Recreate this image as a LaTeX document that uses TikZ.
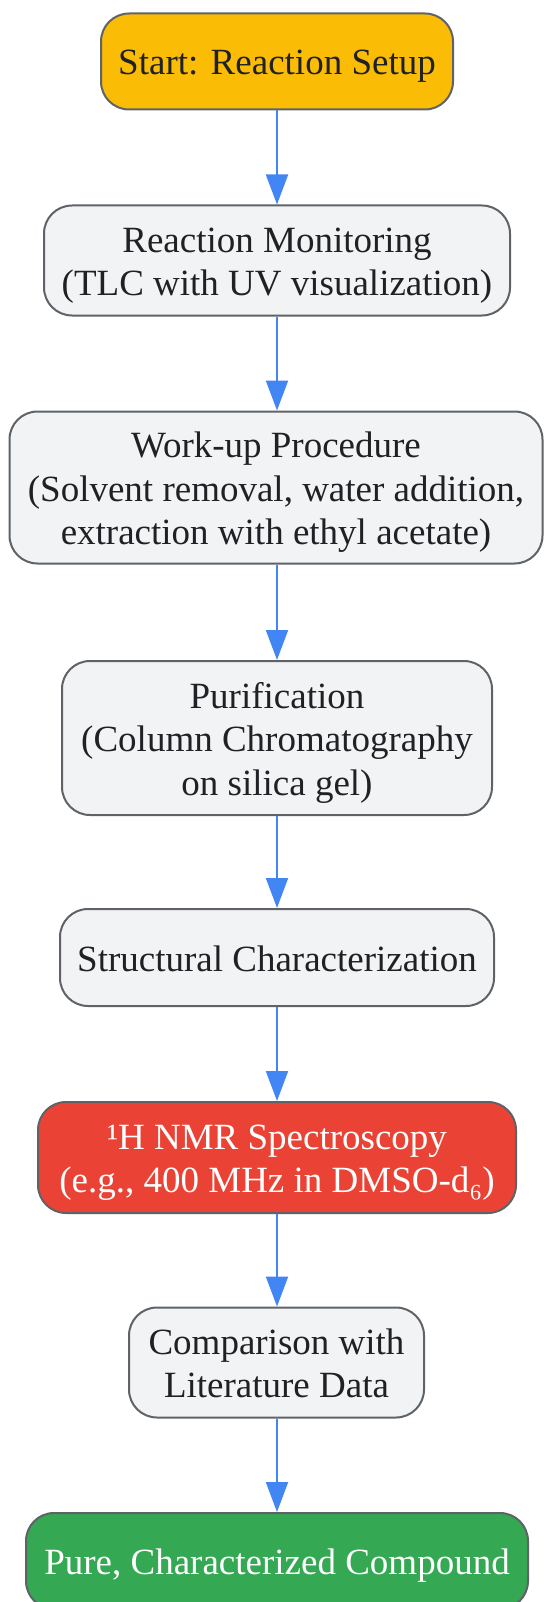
\documentclass[tikz,border=0pt]{standalone}
\usepackage{fontspec}
\setmainfont{Liberation Serif}
\usetikzlibrary{arrows.meta}
\definecolor{startfill}{HTML}{FBBC05}
\definecolor{boxfill}{HTML}{F1F3F4}
\definecolor{boxline}{HTML}{5F6368}
\definecolor{nmrfill}{HTML}{EA4335}
\definecolor{endfill}{HTML}{34A853}
\definecolor{arrowblue}{HTML}{4285F4}
\definecolor{txt}{HTML}{202124}
\newcommand\mytopstrut{\rule{0pt}{35pt}}
\newcommand\mybotstrut{\rule[-8pt]{0pt}{8pt}}
\tikzset{
  flowbox/.style={draw=boxline, line width=2pt, rounded corners=28pt, fill=boxfill,
    text=txt, align=center, inner sep=0pt,
    font=\fontsize{37}{43.5}\selectfont},
  flowarrow/.style={draw=arrowblue, line width=2pt, -{Triangle[length=30pt,width=22pt]}}
}
\begin{document}
\begin{tikzpicture}[x=1pt,y=-1pt]
\useasboundingbox (0,0) rectangle (543,1602);
\node[flowbox, fill=startfill, minimum width=352pt, minimum height=96pt] (n1) at (277,61.5) {\mytopstrut Start: Reaction Setup\mybotstrut};
\node[flowbox, minimum width=466pt, minimum height=110pt] (n2) at (277,260.5) {\mytopstrut Reaction Monitoring\\(TLC with UV visualization)\mybotstrut};
\node[flowbox, minimum width=533pt, minimum height=152pt] (n3) at (276,487.5) {\mytopstrut Work-up Procedure\\(Solvent removal, water addition,\\extraction with ethyl acetate)\mybotstrut};
\node[flowbox, minimum width=430pt, minimum height=154pt] (n4) at (277,738) {\mytopstrut Purification\\(Column Chromatography\\on silica gel)\mybotstrut};
\node[flowbox, minimum width=434pt, minimum height=97pt] (n5) at (277,957.5) {\mytopstrut Structural Characterization\mybotstrut};
\node[flowbox, fill=nmrfill, text=white, minimum width=478pt, minimum height=111pt] (n6) at (277,1157.5) {\mytopstrut ¹H NMR Spectroscopy\\(e.g., 400 MHz in DMSO-d₆)\mybotstrut};
\node[flowbox, minimum width=295pt, minimum height=110pt] (n7) at (276.5,1362.5) {\mytopstrut Comparison with\\Literature Data\mybotstrut};
\node[flowbox, fill=endfill, text=white, minimum width=502pt, minimum height=96pt] (n8) at (277,1561) {\mytopstrut Pure, Characterized Compound\mybotstrut};
\draw[flowarrow] (n1.south) -- (n2.north);
\draw[flowarrow] (n2.south) -- (n3.north -| n2.south);
\draw[flowarrow] (n3.south -| n2.south) -- (n4.north);
\draw[flowarrow] (n4.south) -- (n5.north);
\draw[flowarrow] (n5.south) -- (n6.north);
\draw[flowarrow] (n6.south) -- (n7.north -| n6.south);
\draw[flowarrow] (n7.south -| n6.south) -- (n8.north);
\end{tikzpicture}
\end{document}
